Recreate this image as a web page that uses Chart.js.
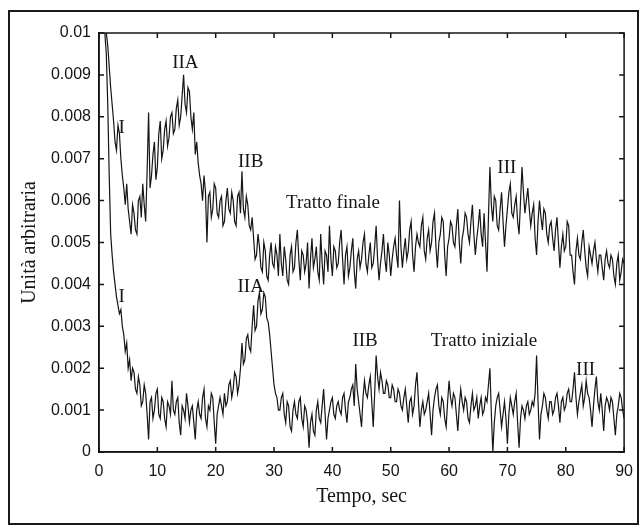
<!DOCTYPE html>
<html>
<head>
<meta charset="utf-8">
<script src="https://cdn.jsdelivr.net/npm/chart.js@4.4.1/dist/chart.umd.min.js"></script>
<style>
  body { margin: 0; background: #fff; }
  #wrap { position: relative; width: 643px; height: 528px; }
  #frame { position: absolute; left: 8px; top: 10px; width: 631px; height: 515px; border: 2px solid #1a1a1a; box-sizing: border-box; }
  canvas { position: absolute; left: 0; top: 0; }
</style>
</head>
<body>
<div id="wrap">
  <div id="frame"></div>
  <canvas id="chart" width="643" height="528"></canvas>
</div>
<script>
// sample grid: first time (sec) and spacing
const tStart = 1;
const tStep = 0.25;

// upper trace, every 0.25 s from 1 to 90 s (one row = 5 s)
const trattoFinale = [
  0.0100, 0.0100, 0.0097, 0.0092, 0.0087, 0.0083, 0.0079, 0.0074, 0.0072, 0.0078, 0.0076, 0.0070, 0.0066, 0.0063, 0.0059, 0.0064, 0.0058, 0.0055, 0.0052, 0.0059,
  0.0057, 0.0053, 0.0052, 0.0060, 0.0061, 0.0056, 0.0064, 0.0059, 0.0055, 0.0067, 0.0081, 0.0063, 0.0066, 0.0071, 0.0074, 0.0065, 0.0068, 0.0076, 0.0079, 0.0070,
  0.0072, 0.0077, 0.0079, 0.0073, 0.0075, 0.0080, 0.0081, 0.0076, 0.0077, 0.0082, 0.0084, 0.0078, 0.0080, 0.0085, 0.0090, 0.0083, 0.0081, 0.0087, 0.0086, 0.0080,
  0.0077, 0.0081, 0.0071, 0.0074, 0.0069, 0.0066, 0.0064, 0.0060, 0.0066, 0.0062, 0.0050, 0.0061, 0.0062, 0.0056, 0.0058, 0.0064, 0.0063, 0.0057, 0.0056, 0.0060,
  0.0061, 0.0054, 0.0055, 0.0060, 0.0063, 0.0058, 0.0057, 0.0062, 0.0060, 0.0055, 0.0054, 0.0061, 0.0062, 0.0057, 0.0067, 0.0058, 0.0056, 0.0061, 0.0059, 0.0054,
  0.0053, 0.0056, 0.0051, 0.0046, 0.0047, 0.0052, 0.0049, 0.0044, 0.0043, 0.0050, 0.0048, 0.0042, 0.0041, 0.0047, 0.0050, 0.0045, 0.0044, 0.0049, 0.0047, 0.0042,
  0.0052, 0.0045, 0.0042, 0.0049, 0.0046, 0.0041, 0.0040, 0.0047, 0.0049, 0.0043, 0.0044, 0.0050, 0.0053, 0.0046, 0.0041, 0.0048, 0.0047, 0.0043, 0.0045, 0.0050,
  0.0039, 0.0046, 0.0051, 0.0044, 0.0046, 0.0049, 0.0043, 0.0041, 0.0052, 0.0045, 0.0040, 0.0048, 0.0047, 0.0043, 0.0054, 0.0046, 0.0042, 0.0049, 0.0048, 0.0044,
  0.0045, 0.0050, 0.0053, 0.0046, 0.0040, 0.0047, 0.0049, 0.0042, 0.0044, 0.0048, 0.0051, 0.0043, 0.0039, 0.0046, 0.0048, 0.0044, 0.0046, 0.0050, 0.0052, 0.0045,
  0.0043, 0.0047, 0.0050, 0.0044, 0.0045, 0.0049, 0.0054, 0.0046, 0.0041, 0.0045, 0.0048, 0.0052, 0.0046, 0.0043, 0.0050, 0.0047, 0.0042, 0.0046, 0.0049, 0.0051,
  0.0047, 0.0044, 0.0060, 0.0049, 0.0044, 0.0048, 0.0051, 0.0046, 0.0048, 0.0053, 0.0055, 0.0047, 0.0043, 0.0049, 0.0052, 0.0050, 0.0049, 0.0054, 0.0056, 0.0048,
  0.0046, 0.0051, 0.0053, 0.0048, 0.0050, 0.0055, 0.0057, 0.0049, 0.0044, 0.0050, 0.0052, 0.0056, 0.0055, 0.0047, 0.0042, 0.0049, 0.0051, 0.0055, 0.0054, 0.0050,
  0.0049, 0.0054, 0.0058, 0.0050, 0.0045, 0.0051, 0.0053, 0.0057, 0.0056, 0.0052, 0.0050, 0.0055, 0.0059, 0.0052, 0.0047, 0.0051, 0.0054, 0.0058, 0.0052, 0.0049,
  0.0057, 0.0050, 0.0043, 0.0056, 0.0068, 0.0059, 0.0055, 0.0061, 0.0060, 0.0054, 0.0053, 0.0058, 0.0062, 0.0055, 0.0049, 0.0054, 0.0058, 0.0062, 0.0064, 0.0057,
  0.0056, 0.0059, 0.0061, 0.0055, 0.0052, 0.0060, 0.0068, 0.0062, 0.0057, 0.0060, 0.0063, 0.0058, 0.0054, 0.0057, 0.0059, 0.0051, 0.0047, 0.0055, 0.0060, 0.0056,
  0.0053, 0.0058, 0.0057, 0.0052, 0.0050, 0.0054, 0.0055, 0.0051, 0.0048, 0.0053, 0.0056, 0.0050, 0.0044, 0.0049, 0.0052, 0.0048, 0.0049, 0.0055, 0.0054, 0.0047,
  0.0047, 0.0043, 0.0040, 0.0048, 0.0051, 0.0047, 0.0046, 0.0050, 0.0053, 0.0048, 0.0044, 0.0042, 0.0049, 0.0047, 0.0045, 0.0048, 0.0050, 0.0046, 0.0043, 0.0047,
  0.0047, 0.0044, 0.0041, 0.0046, 0.0048, 0.0045, 0.0044, 0.0047, 0.0046, 0.0042, 0.0040, 0.0045, 0.0047, 0.0041, 0.0043, 0.0046, 0.0045
];

// lower trace, same grid
const trattoIniziale = [
  0.0100, 0.0095, 0.0083, 0.0066, 0.0052, 0.0047, 0.0043, 0.0040, 0.0037, 0.0035, 0.0033, 0.0034, 0.0030, 0.0028, 0.0024, 0.0026, 0.0020, 0.0022, 0.0017, 0.0020,
  0.0019, 0.0015, 0.0014, 0.0018, 0.0016, 0.0011, 0.0012, 0.0016, 0.0014, 0.0009, 0.0003, 0.0012, 0.0013, 0.0008, 0.0010, 0.0014, 0.0015, 0.0009, 0.0008, 0.0013,
  0.0012, 0.0008, 0.0006, 0.0012, 0.0011, 0.0009, 0.0017, 0.0010, 0.0009, 0.0012, 0.0013, 0.0007, 0.0004, 0.0011, 0.0010, 0.0008, 0.0014, 0.0011, 0.0007, 0.0010,
  0.0011, 0.0007, 0.0003, 0.0010, 0.0012, 0.0009, 0.0008, 0.0013, 0.0015, 0.0008, 0.0006, 0.0011, 0.0010, 0.0014, 0.0013, 0.0007, 0.0002, 0.0009, 0.0011, 0.0013,
  0.0011, 0.0009, 0.0014, 0.0011, 0.0012, 0.0016, 0.0017, 0.0013, 0.0015, 0.0019, 0.0018, 0.0014, 0.0016, 0.0020, 0.0026, 0.0021, 0.0022, 0.0027, 0.0028, 0.0025,
  0.0024, 0.0030, 0.0035, 0.0029, 0.0030, 0.0036, 0.0038, 0.0033, 0.0034, 0.0038, 0.0037, 0.0032, 0.0031, 0.0028, 0.0024, 0.0020, 0.0016, 0.0014, 0.0013, 0.0010,
  0.0010, 0.0013, 0.0014, 0.0009, 0.0007, 0.0012, 0.0011, 0.0006, 0.0005, 0.0010, 0.0012, 0.0009, 0.0008, 0.0012, 0.0013, 0.0008, 0.0006, 0.0011, 0.0010, 0.0007,
  0.0001, 0.0007, 0.0009, 0.0005, 0.0004, 0.0010, 0.0012, 0.0008, 0.0007, 0.0011, 0.0015, 0.0009, 0.0003, 0.0008, 0.0010, 0.0012, 0.0013, 0.0009, 0.0008, 0.0011,
  0.0012, 0.0010, 0.0009, 0.0013, 0.0014, 0.0010, 0.0007, 0.0012, 0.0013, 0.0015, 0.0016, 0.0011, 0.0021, 0.0015, 0.0012, 0.0009, 0.0006, 0.0013, 0.0017, 0.0014,
  0.0013, 0.0016, 0.0018, 0.0012, 0.0006, 0.0014, 0.0023, 0.0018, 0.0015, 0.0019, 0.0017, 0.0014, 0.0014, 0.0017, 0.0016, 0.0013, 0.0013, 0.0016, 0.0015, 0.0012,
  0.0012, 0.0015, 0.0014, 0.0011, 0.0010, 0.0013, 0.0015, 0.0011, 0.0007, 0.0012, 0.0013, 0.0009, 0.0011, 0.0016, 0.0019, 0.0012, 0.0006, 0.0010, 0.0012, 0.0009,
  0.0010, 0.0012, 0.0014, 0.0009, 0.0004, 0.0010, 0.0013, 0.0015, 0.0016, 0.0011, 0.0009, 0.0013, 0.0012, 0.0008, 0.0006, 0.0012, 0.0017, 0.0013, 0.0011, 0.0014,
  0.0013, 0.0009, 0.0005, 0.0011, 0.0015, 0.0012, 0.0010, 0.0013, 0.0012, 0.0008, 0.0007, 0.0011, 0.0014, 0.0010, 0.0011, 0.0013, 0.0008, 0.0011, 0.0013, 0.0009,
  0.0010, 0.0013, 0.0012, 0.0016, 0.0020, 0.0009, 0.0000, 0.0007, 0.0011, 0.0013, 0.0014, 0.0010, 0.0006, 0.0009, 0.0012, 0.0008, 0.0002, 0.0009, 0.0013, 0.0011,
  0.0009, 0.0012, 0.0014, 0.0007, 0.0001, 0.0008, 0.0011, 0.0010, 0.0008, 0.0011, 0.0012, 0.0009, 0.0010, 0.0012, 0.0011, 0.0014, 0.0023, 0.0012, 0.0003, 0.0009,
  0.0011, 0.0014, 0.0013, 0.0010, 0.0008, 0.0012, 0.0012, 0.0009, 0.0010, 0.0013, 0.0014, 0.0011, 0.0007, 0.0012, 0.0013, 0.0010, 0.0011, 0.0014, 0.0015, 0.0012,
  0.0012, 0.0015, 0.0019, 0.0013, 0.0009, 0.0012, 0.0014, 0.0016, 0.0011, 0.0013, 0.0017, 0.0014, 0.0013, 0.0010, 0.0006, 0.0011, 0.0015, 0.0018, 0.0012, 0.0010,
  0.0014, 0.0010, 0.0005, 0.0011, 0.0013, 0.0012, 0.0010, 0.0013, 0.0012, 0.0008, 0.0004, 0.0009, 0.0011, 0.0014, 0.0013, 0.0010, 0.0008
];

const xTicks = [0, 10, 20, 30, 40, 50, 60, 70, 80, 90];
const yTicks = [0, 0.001, 0.002, 0.003, 0.004, 0.005, 0.006, 0.007, 0.008, 0.009, 0.01];

// labels written on the plot, placed in data units
const noteLabels = ['I', 'IIA', 'IIB', 'Tratto finale', 'III', 'I', 'IIA', 'IIB', 'Tratto iniziale', 'III'];
const noteX = [3.9, 14.8, 26.0, 40.1, 69.9, 3.9, 26.0, 45.6, 66.0, 83.4];
const noteY = [0.00773, 0.00928, 0.00692, 0.00594, 0.00678, 0.0037, 0.00394, 0.00265, 0.00265, 0.00196];

const toPoints = arr => arr.map((v, i) => ({ x: tStart + i * tStep, y: v }));

const ink = '#151515';

const boxPlugin = {
  id: 'box',
  afterDatasetsDraw(chart) {
    const { ctx, chartArea: a, scales: { x, y } } = chart;
    ctx.save();
    ctx.strokeStyle = ink;
    ctx.lineWidth = 1.5;
    ctx.strokeRect(a.left, a.top, a.right - a.left, a.bottom - a.top);
    ctx.beginPath();
    xTicks.forEach(v => {
      const px = x.getPixelForValue(v);
      ctx.moveTo(px, a.bottom); ctx.lineTo(px, a.bottom - 5);
      ctx.moveTo(px, a.top); ctx.lineTo(px, a.top + 5);
    });
    yTicks.forEach(v => {
      const py = y.getPixelForValue(v);
      ctx.moveTo(a.left, py); ctx.lineTo(a.left + 5, py);
      ctx.moveTo(a.right, py); ctx.lineTo(a.right - 5, py);
    });
    ctx.stroke();

    ctx.fillStyle = ink;
    ctx.font = '19px "Liberation Serif"';
    ctx.textAlign = 'center';
    ctx.textBaseline = 'middle';
    noteLabels.forEach((t, i) => {
      ctx.fillText(t, x.getPixelForValue(noteX[i]), y.getPixelForValue(noteY[i]));
    });
    ctx.restore();
  }
};

new Chart(document.getElementById('chart'), {
  type: 'line',
  data: {
    datasets: [
      { label: 'Tratto finale', data: toPoints(trattoFinale), borderColor: ink, borderWidth: 1.2, pointRadius: 0, tension: 0 },
      { label: 'Tratto iniziale', data: toPoints(trattoIniziale), borderColor: ink, borderWidth: 1.2, pointRadius: 0, tension: 0 }
    ]
  },
  options: {
    responsive: false,
    animation: false,
    layout: { padding: { top: 33, right: 15, left: 12, bottom: 0 } },
    plugins: { legend: { display: false }, tooltip: { enabled: false } },
    scales: {
      x: {
        type: 'linear',
        min: 0,
        max: 90,
        afterBuildTicks: s => { s.ticks = xTicks.map(v => ({ value: v })); },
        afterFit: s => { s.height = 76; },
        grid: { display: false, drawTicks: false },
        border: { color: ink, width: 1.5 },
        ticks: { color: ink, font: { family: '"Liberation Sans"', size: 16 }, padding: 10, maxRotation: 0 },
        title: { display: true, text: 'Tempo, sec', color: ink, font: { family: '"Liberation Serif"', size: 20 }, padding: { top: 0, bottom: 19 } }
      },
      y: {
        type: 'linear',
        min: 0,
        max: 0.01,
        afterBuildTicks: s => { s.ticks = yTicks.map(v => ({ value: v })); },
        afterFit: s => { s.width = 87; },
        grid: { display: false, drawTicks: false },
        border: { color: ink, width: 1.5 },
        ticks: { color: ink, font: { family: '"Liberation Sans"', size: 16 }, padding: 8, callback: v => String(+v.toFixed(3)) },
        title: { display: true, text: 'Unità arbitraria', color: ink, font: { family: '"Liberation Serif"', size: 20 }, padding: { top: 6, bottom: 0 } }
      }
    }
  },
  plugins: [boxPlugin]
});
</script>
</body>
</html>
